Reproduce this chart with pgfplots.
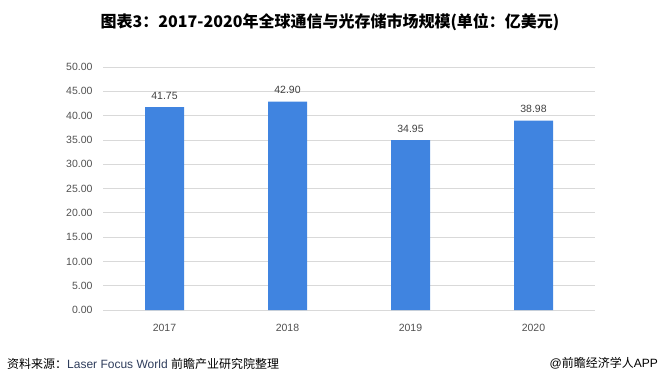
\documentclass[border=0pt]{standalone}
\usepackage{pgfplots}
\pgfplotsset{compat=1.18}
\usepackage{fontspec}
\setmainfont{Liberation Sans}
\newfontfamily\cjk{Noto Sans CJK SC}
\definecolor{barblue}{HTML}{4084E0}
\definecolor{gridgray}{HTML}{D9D9D9}
\definecolor{ticktext}{HTML}{505050}
\definecolor{labeltext}{HTML}{404040}
\definecolor{srcblue}{HTML}{2F3D5C}
\begin{document}
\begin{tikzpicture}
\useasboundingbox (0,0) rectangle (659pt,384pt);
\begin{axis}[
  at={(103pt,74pt)}, anchor=south west,
  scale only axis, width=492pt, height=243pt,
  xmin=-0.5, xmax=3.5, ymin=0, ymax=50,
  ytick={0,5,...,50},
  xtick={0,1,2,3},
  xticklabels={2017,2018,2019,2020},
  axis line style={draw=none},
  tick style={draw=none},
  ymajorgrids,
  major grid style={draw=gridgray, line width=0.8pt},
  /pgf/number format/assume math mode=true,
  yticklabel={\pgfmathprintnumber[fixed,fixed zerofill,precision=2]{\tick}},
  yticklabel style={font=\fontsize{10.5}{12}\selectfont, color=ticktext, xshift=-7pt},
  xticklabel style={font=\fontsize{10.5}{12}\selectfont, color=ticktext, yshift=-6pt},
  ybar, bar width=39pt,
  nodes near coords,
  nodes near coords style={font=\fontsize{10.5}{12}\selectfont, color=labeltext, yshift=4pt,
    /pgf/number format/.cd, fixed, fixed zerofill, precision=2, assume math mode=true},
]
\addplot[fill=barblue, draw=none] coordinates {(0,41.75) (1,42.90) (2,34.95) (3,38.98)};
\end{axis}
\node[anchor=center, inner sep=0pt] at (330pt,362pt) {\cjk\bfseries\fontsize{16}{18}\selectfont 图表3：2017-2020年全球通信与光存储市场规模(单位：亿美元)};
\node[anchor=west, inner sep=0pt] at (7pt,20pt) {\fontsize{12}{14}\selectfont{\cjk 资料来源：}\textcolor{srcblue}{Laser Focus World} {\cjk 前瞻产业研究院整理}};
\node[anchor=east, inner sep=0pt] at (658pt,21pt) {\fontsize{12}{14}\selectfont @{\cjk 前瞻经济学人}APP};
\end{tikzpicture}
\end{document}
